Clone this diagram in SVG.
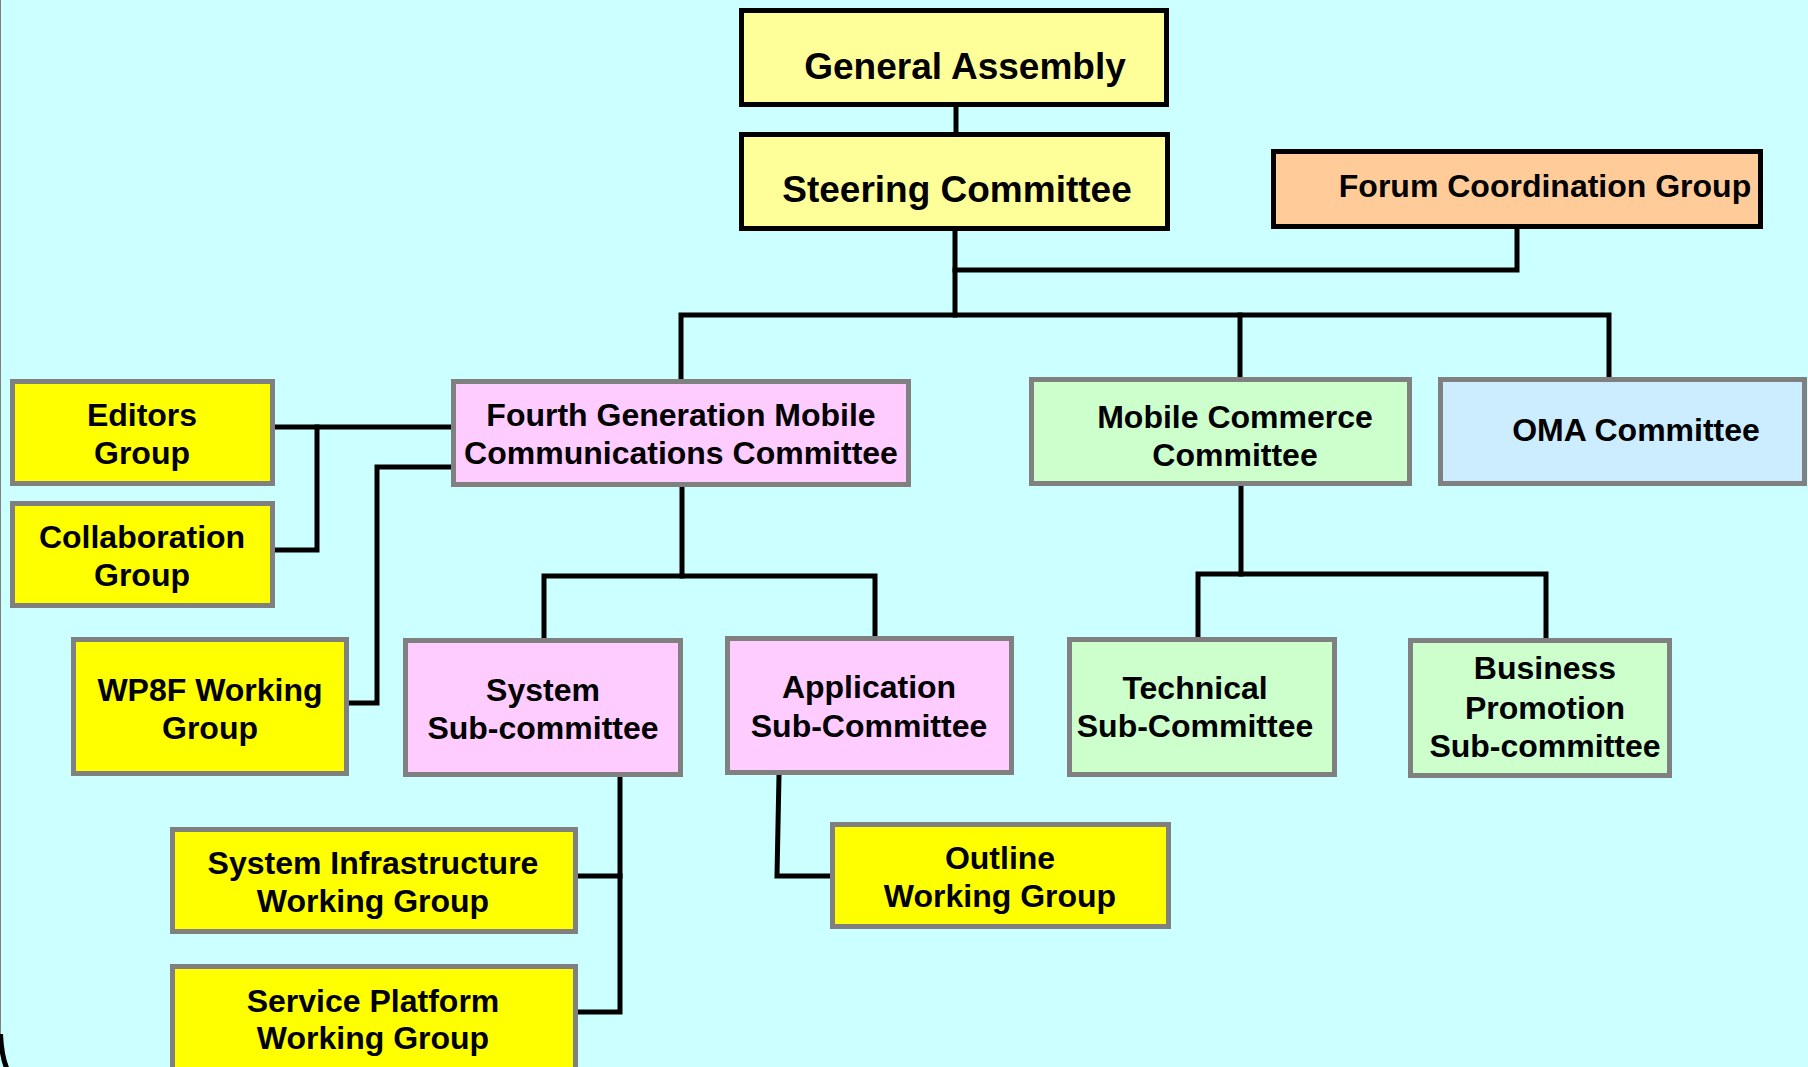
<svg xmlns="http://www.w3.org/2000/svg" width="1808" height="1067" viewBox="0 0 1808 1067">
  <style>
    .bg { fill: #CCFFFF; }
    .box { stroke: #808080; stroke-width: 5; }
    .top { stroke: #000000; stroke-width: 5; }
    .pale { fill: #FFFF99; }
    .orange { fill: #FFCC99; }
    .pink { fill: #FFCCFF; }
    .green { fill: #CCFFCC; }
    .blue { fill: #CCECFF; }
    .yellow { fill: #FFFF00; }
    text { font-family: "Liberation Sans", Arial, Helvetica, sans-serif; font-weight: bold; font-size: 32px; fill: #000000; text-anchor: middle; }
    text.big { font-size: 37px; }
    .wire { fill: none; stroke: #000000; stroke-width: 5; stroke-linejoin: miter; stroke-linecap: square; }
  </style>

  <!-- page background and frame edge -->
  <rect class="bg" x="0" y="0" width="1808" height="1067"/>
  <line x1="0.5" y1="0" x2="0.5" y2="1036" stroke="#808080" stroke-width="1"/>
  <path d="M0.5,1034 Q1.5,1056 7,1069" fill="none" stroke="#000000" stroke-width="5"/>

  <!-- connectors -->
  <g id="connectors">
    <path class="wire" d="M956,107 V132"/>
    <path class="wire" d="M955,231 V315"/>
    <path class="wire" d="M955,270 H1517 V229"/>
    <path class="wire" d="M681,379 V315 H1609 V377"/>
    <path class="wire" d="M1240,315 V377"/>
    <path class="wire" d="M275,427 H451"/>
    <path class="wire" d="M317,427 V550 H275"/>
    <path class="wire" d="M451,467 H377 V703 H349"/>
    <path class="wire" d="M682,487 V576"/>
    <path class="wire" d="M544,638 V576 H875 V636"/>
    <path class="wire" d="M620,777 V1012 H578"/>
    <path class="wire" d="M578,876 H620"/>
    <path class="wire" d="M779,775 L777,876 H830"/>
    <path class="wire" d="M1241,486 V574"/>
    <path class="wire" d="M1198,637 V574 H1546 V638"/>
  </g>

  <g id="general-assembly">
    <rect class="top pale" x="741.5" y="10.5" width="425" height="94"/>
    <text class="big" x="965" y="79">General Assembly</text>
  </g>

  <g id="steering-committee">
    <rect class="top pale" x="741.5" y="134.5" width="426" height="94"/>
    <text class="big" x="957" y="202">Steering Committee</text>
  </g>

  <g id="forum-coordination-group">
    <rect class="top orange" x="1273.5" y="151.5" width="487" height="75"/>
    <text x="1545" y="197">Forum Coordination Group</text>
  </g>

  <g id="editors-group">
    <rect class="box yellow" x="12.5" y="381.5" width="260" height="102"/>
    <text x="142" y="426">Editors</text>
    <text x="142" y="464">Group</text>
  </g>

  <g id="collaboration-group">
    <rect class="box yellow" x="12.5" y="503.5" width="260" height="102"/>
    <text x="142" y="548">Collaboration</text>
    <text x="142" y="586">Group</text>
  </g>

  <g id="wp8f-working-group">
    <rect class="box yellow" x="73.5" y="639.5" width="273" height="134"/>
    <text x="210" y="701">WP8F Working</text>
    <text x="210" y="739">Group</text>
  </g>

  <g id="fourth-generation-committee">
    <rect class="box pink" x="453.5" y="381.5" width="455" height="103"/>
    <text x="681" y="426">Fourth Generation Mobile</text>
    <text x="681" y="464">Communications Committee</text>
  </g>

  <g id="mobile-commerce-committee">
    <rect class="box green" x="1031.5" y="379.5" width="378" height="104"/>
    <text x="1235" y="428">Mobile Commerce</text>
    <text x="1235" y="466">Committee</text>
  </g>

  <g id="oma-committee">
    <rect class="box blue" x="1440.5" y="379.5" width="364" height="104"/>
    <text x="1636" y="441">OMA Committee</text>
  </g>

  <g id="system-sub-committee">
    <rect class="box pink" x="405.5" y="640.5" width="275" height="134"/>
    <text x="543" y="701">System</text>
    <text x="543" y="739">Sub-committee</text>
  </g>

  <g id="application-sub-committee">
    <rect class="box pink" x="727.5" y="638.5" width="284" height="134"/>
    <text x="869" y="698">Application</text>
    <text x="869" y="737">Sub-Committee</text>
  </g>

  <g id="technical-sub-committee">
    <rect class="box green" x="1069.5" y="639.5" width="265" height="135"/>
    <text x="1195" y="699">Technical</text>
    <text x="1195" y="737">Sub-Committee</text>
  </g>

  <g id="business-promotion-sub-committee">
    <rect class="box green" x="1410.5" y="640.5" width="259" height="135"/>
    <text x="1545" y="679">Business</text>
    <text x="1545" y="719">Promotion</text>
    <text x="1545" y="757">Sub-committee</text>
  </g>

  <g id="system-infrastructure-working-group">
    <rect class="box yellow" x="172.5" y="829.5" width="403" height="102"/>
    <text x="373" y="874">System Infrastructure</text>
    <text x="373" y="912">Working Group</text>
  </g>

  <g id="service-platform-working-group">
    <rect class="box yellow" x="172.5" y="966.5" width="403" height="110"/>
    <text x="373" y="1012">Service Platform</text>
    <text x="373" y="1049">Working Group</text>
  </g>

  <g id="outline-working-group">
    <rect class="box yellow" x="832.5" y="824.5" width="336" height="102"/>
    <text x="1000" y="869">Outline</text>
    <text x="1000" y="907">Working Group</text>
  </g>
</svg>
